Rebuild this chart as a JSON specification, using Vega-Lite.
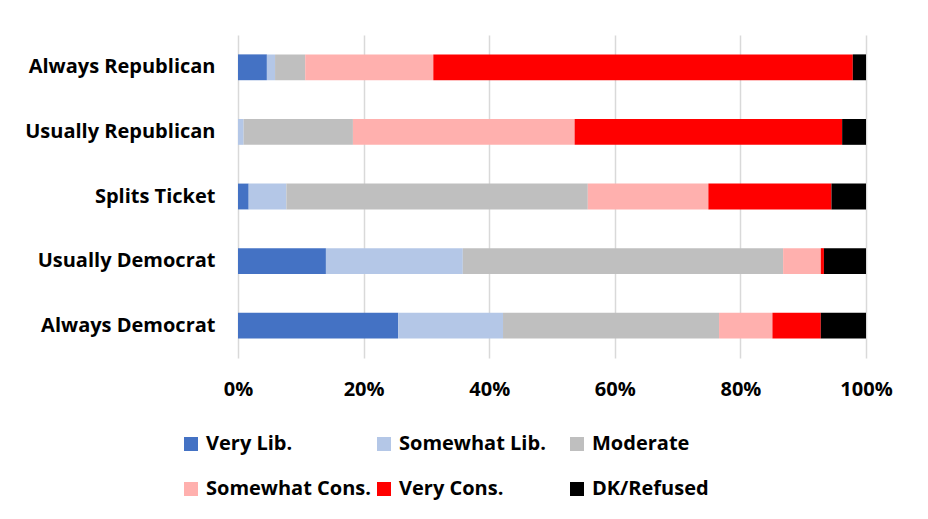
{
  "$schema": "https://vega.github.io/schema/vega-lite/v6.json",
  "width": 628,
  "height": 323,
  "autosize": {"type": "none"},
  "padding": {"left": 238, "top": 35, "right": 62, "bottom": 161},
  "background": "white",
  "config": {
    "view": {"stroke": null},
    "font": "Open Sans",
    "axis": {"labelFont": "Open Sans", "labelFontWeight": "bold", "labelColor": "black", "labelFontSize": 20, "labelLimit": 300}
  },
  "data": {
    "values": [
      {"group": "Always Republican", "ideo": "Very Lib.", "k": 1, "pct": 4.6},
      {"group": "Always Republican", "ideo": "Somewhat Lib.", "k": 2, "pct": 1.3},
      {"group": "Always Republican", "ideo": "Moderate", "k": 3, "pct": 4.8},
      {"group": "Always Republican", "ideo": "Somewhat Cons.", "k": 4, "pct": 20.4},
      {"group": "Always Republican", "ideo": "Very Cons.", "k": 5, "pct": 66.8},
      {"group": "Always Republican", "ideo": "DK/Refused", "k": 6, "pct": 2.1},
      {"group": "Usually Republican", "ideo": "Very Lib.", "k": 1, "pct": 0.0},
      {"group": "Usually Republican", "ideo": "Somewhat Lib.", "k": 2, "pct": 0.9},
      {"group": "Usually Republican", "ideo": "Moderate", "k": 3, "pct": 17.4},
      {"group": "Usually Republican", "ideo": "Somewhat Cons.", "k": 4, "pct": 35.3},
      {"group": "Usually Republican", "ideo": "Very Cons.", "k": 5, "pct": 42.6},
      {"group": "Usually Republican", "ideo": "DK/Refused", "k": 6, "pct": 3.8},
      {"group": "Splits Ticket", "ideo": "Very Lib.", "k": 1, "pct": 1.7},
      {"group": "Splits Ticket", "ideo": "Somewhat Lib.", "k": 2, "pct": 6.0},
      {"group": "Splits Ticket", "ideo": "Moderate", "k": 3, "pct": 48.0},
      {"group": "Splits Ticket", "ideo": "Somewhat Cons.", "k": 4, "pct": 19.2},
      {"group": "Splits Ticket", "ideo": "Very Cons.", "k": 5, "pct": 19.6},
      {"group": "Splits Ticket", "ideo": "DK/Refused", "k": 6, "pct": 5.5},
      {"group": "Usually Democrat", "ideo": "Very Lib.", "k": 1, "pct": 14.0},
      {"group": "Usually Democrat", "ideo": "Somewhat Lib.", "k": 2, "pct": 21.8},
      {"group": "Usually Democrat", "ideo": "Moderate", "k": 3, "pct": 51.0},
      {"group": "Usually Democrat", "ideo": "Somewhat Cons.", "k": 4, "pct": 6.0},
      {"group": "Usually Democrat", "ideo": "Very Cons.", "k": 5, "pct": 0.5},
      {"group": "Usually Democrat", "ideo": "DK/Refused", "k": 6, "pct": 6.7},
      {"group": "Always Democrat", "ideo": "Very Lib.", "k": 1, "pct": 25.5},
      {"group": "Always Democrat", "ideo": "Somewhat Lib.", "k": 2, "pct": 16.7},
      {"group": "Always Democrat", "ideo": "Moderate", "k": 3, "pct": 34.4},
      {"group": "Always Democrat", "ideo": "Somewhat Cons.", "k": 4, "pct": 8.5},
      {"group": "Always Democrat", "ideo": "Very Cons.", "k": 5, "pct": 7.7},
      {"group": "Always Democrat", "ideo": "DK/Refused", "k": 6, "pct": 7.2}
    ]
  },
  "mark": {"type": "bar"},
  "encoding": {
    "y": {
      "field": "group",
      "type": "nominal",
      "sort": ["Always Republican", "Usually Republican", "Splits Ticket", "Usually Democrat", "Always Democrat"],
      "scale": {"paddingInner": 0.6, "paddingOuter": 0.3},
      "axis": {"title": null, "domain": false, "ticks": false, "labelPadding": 23, "grid": false, "labelLimit": 300}
    },
    "x": {
      "field": "pct",
      "type": "quantitative",
      "stack": "normalize",
      "scale": {"domain": [0, 1], "nice": false},
      "axis": {
        "title": null,
        "values": [0, 0.2, 0.4, 0.6, 0.8, 1],
        "format": ".0%",
        "domain": false,
        "ticks": false,
        "grid": true,
        "gridColor": "#d9d9d9",
        "gridWidth": 1.5,
        "labelPadding": 21,
        "labelFlush": false
      }
    },
    "color": {
      "field": "ideo",
      "type": "nominal",
      "sort": ["Very Lib.", "Somewhat Lib.", "Moderate", "Somewhat Cons.", "Very Cons.", "DK/Refused"],
      "scale": {
        "domain": ["Very Lib.", "Somewhat Lib.", "Moderate", "Somewhat Cons.", "Very Cons.", "DK/Refused"],
        "range": ["#4472C4", "#B4C7E7", "#BFBFBF", "#FFB0AE", "#FF0000", "#000000"]
      },
      "legend": {
        "title": null,
        "orient": "none",
        "legendX": -57,
        "legendY": 399,
        "direction": "horizontal",
        "columns": 3,
        "gridAlign": "all",
        "columnPadding": 3,
        "rowPadding": 25,
        "symbolType": "square",
        "symbolSize": 196,
        "symbolStrokeWidth": 0,
        "symbolOffset": 0,
        "labelOffset": 5,
        "labelFont": "Open Sans",
        "labelFontWeight": "bold",
        "labelFontSize": 20,
        "labelColor": "black",
        "labelLimit": 300
      }
    },
    "order": {"field": "k", "type": "quantitative"}
  }
}
